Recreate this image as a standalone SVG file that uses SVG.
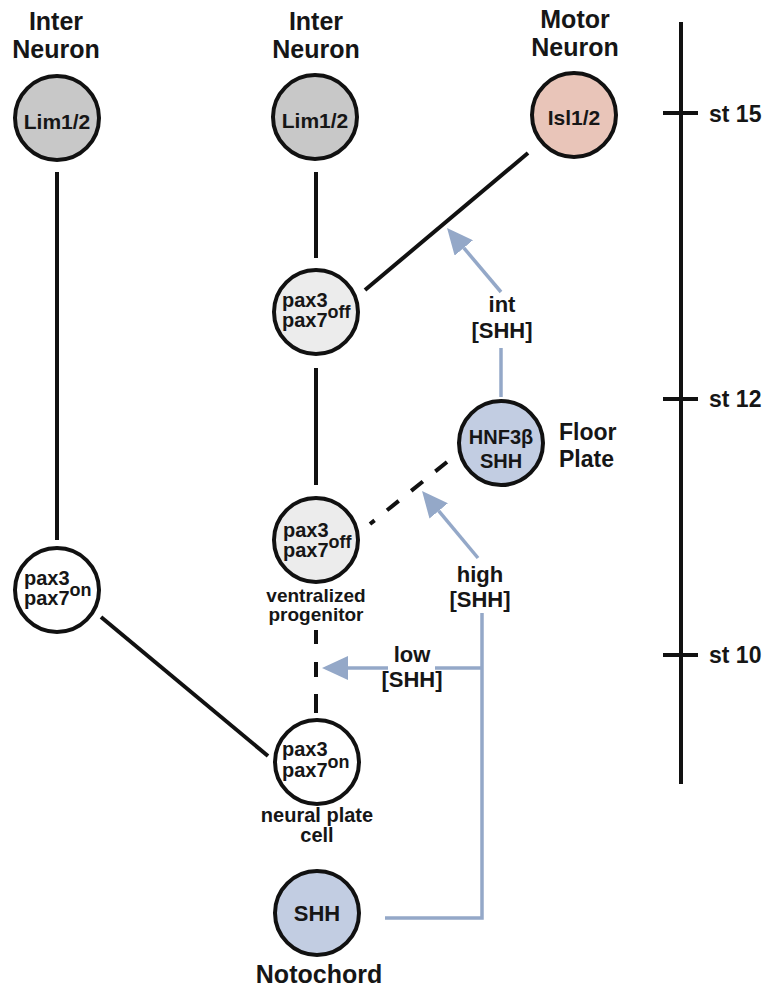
<svg xmlns="http://www.w3.org/2000/svg" width="770" height="990" viewBox="0 0 770 990">
<style>
text{font-family:"Liberation Sans",Arial,sans-serif;font-weight:bold;fill:#161616}
.hdr{font-size:25px;text-anchor:middle}
.nt{font-size:20px}
.ntc{font-size:21px;text-anchor:middle}
.lbl{font-size:22px;text-anchor:middle}
.sub{font-size:19px;text-anchor:middle}
.st{font-size:23px}
.node{stroke:#111;stroke-width:4}
.lim{fill:#c8c8c8}
.off{fill:#ececec}
.on{fill:#ffffff}
.isl{fill:#e9c5b9}
.blue{fill:#c2cde2}
.blk{stroke:#111;stroke-width:4;fill:none}
.dash{stroke:#111;stroke-width:4;fill:none;stroke-dasharray:15 16}
.bl{stroke:#94a8c8;stroke-width:3.5;fill:none}
.sup{font-size:18px}
</style>
<defs>
<marker id="ah" viewBox="0 0 26 24" refX="0" refY="12" markerWidth="26" markerHeight="24" markerUnits="userSpaceOnUse" orient="auto">
<path d="M0,0 L26,12 L0,24 z" fill="#94a8c8"/>
</marker>
</defs>
<rect width="770" height="990" fill="#ffffff"/>

<g id="headers">
<text class="hdr" x="56" y="30">Inter</text>
<text class="hdr" x="56" y="58">Neuron</text>
<text class="hdr" x="316" y="30">Inter</text>
<text class="hdr" x="316" y="58">Neuron</text>
<text class="hdr" x="575" y="28">Motor</text>
<text class="hdr" x="575" y="56">Neuron</text>
</g>

<g id="timeline">
<line class="blk" x1="681" y1="22" x2="681" y2="784"/>
<line class="blk" x1="663" y1="113" x2="698" y2="113"/>
<line class="blk" x1="663" y1="399" x2="698" y2="399"/>
<line class="blk" x1="663" y1="655" x2="698" y2="655"/>
<text class="st" x="709" y="122">st 15</text>
<text class="st" x="709" y="407">st 12</text>
<text class="st" x="709" y="663">st 10</text>
</g>

<g id="connectors">
<line class="blk" x1="57" y1="172" x2="57" y2="540"/>
<line class="blk" x1="316" y1="172" x2="316" y2="258"/>
<line class="blk" x1="316" y1="368" x2="316" y2="485"/>
<line class="blk" x1="365" y1="290" x2="528" y2="153"/>
<line class="blk" x1="101" y1="617" x2="268" y2="756"/>
<line class="dash" x1="447" y1="462" x2="370" y2="524"/>
<line class="blk" x1="316" y1="630" x2="316" y2="644"/>
<line class="blk" x1="316" y1="662" x2="316" y2="677"/>
<line class="blk" x1="316" y1="694" x2="316" y2="713"/>
<path class="bl" d="M385,918 H482 V613"/>
<path class="bl" d="M482,668 H435"/>
<path class="bl" d="M388,668 H348" marker-end="url(#ah)"/>
<path class="bl" d="M478,558 L438.7,510.9" marker-end="url(#ah)"/>
<path class="bl" d="M501,397 V348"/>
<path class="bl" d="M501,292 L463.8,247.9" marker-end="url(#ah)"/>
<text class="lbl" x="502" y="312">int</text>
<text class="lbl" x="502" y="338">[SHH]</text>
<text class="lbl" x="480" y="582">high</text>
<text class="lbl" x="480" y="607">[SHH]</text>
<text class="lbl" x="412" y="662">low</text>
<text class="lbl" x="412" y="687">[SHH]</text>
</g>

<g id="lim-left">
<circle class="node lim" cx="57" cy="118" r="42"/>
<text class="ntc" x="57" y="129">Lim1/2</text>
</g>
<g id="lim-mid">
<circle class="node lim" cx="315" cy="117" r="42"/>
<text class="ntc" x="315" y="128">Lim1/2</text>
</g>
<g id="isl">
<circle class="node isl" cx="574" cy="115" r="42"/>
<text class="ntc" x="574" y="125">Isl1/2</text>
</g>
<g id="pax-off-upper">
<circle class="node off" cx="316" cy="312" r="42"/>
<text class="nt" x="282" y="307">pax3</text>
<text class="nt" x="282" y="327">pax7<tspan class="sup" dy="-9">off</tspan></text>
</g>
<g id="floor-plate">
<circle class="node blue" cx="501" cy="443" r="42"/>
<text class="ntc" style="font-size:20px" x="501" y="444">HNF3β</text>
<text class="ntc" style="font-size:20px" x="501" y="468">SHH</text>
<text style="font-size:23px" x="559" y="440">Floor</text>
<text style="font-size:23px" x="559" y="467">Plate</text>
</g>
<g id="pax-off-lower">
<circle class="node off" cx="316" cy="540" r="42"/>
<text class="nt" x="283" y="537">pax3</text>
<text class="nt" x="283" y="557">pax7<tspan class="sup" dy="-9">off</tspan></text>
<text class="sub" x="316" y="602">ventralized</text>
<text class="sub" x="316" y="621">progenitor</text>
</g>
<g id="pax-on-left">
<circle class="node on" cx="57" cy="590" r="42"/>
<text class="nt" x="24" y="585">pax3</text>
<text class="nt" x="24" y="605">pax7<tspan class="sup" dy="-9">on</tspan></text>
</g>
<g id="neural-plate">
<circle class="node on" cx="317" cy="762" r="42"/>
<text class="nt" x="282" y="756">pax3</text>
<text class="nt" x="282" y="777">pax7<tspan class="sup" dy="-9">on</tspan></text>
<text class="sub" style="font-size:20px" x="317" y="822">neural plate</text>
<text class="sub" style="font-size:20px" x="317" y="842">cell</text>
</g>
<g id="notochord">
<circle class="node blue" cx="317" cy="913" r="42"/>
<text class="ntc" style="font-size:22px" x="317" y="921">SHH</text>
<text class="hdr" x="319" y="983">Notochord</text>
</g>
</svg>
